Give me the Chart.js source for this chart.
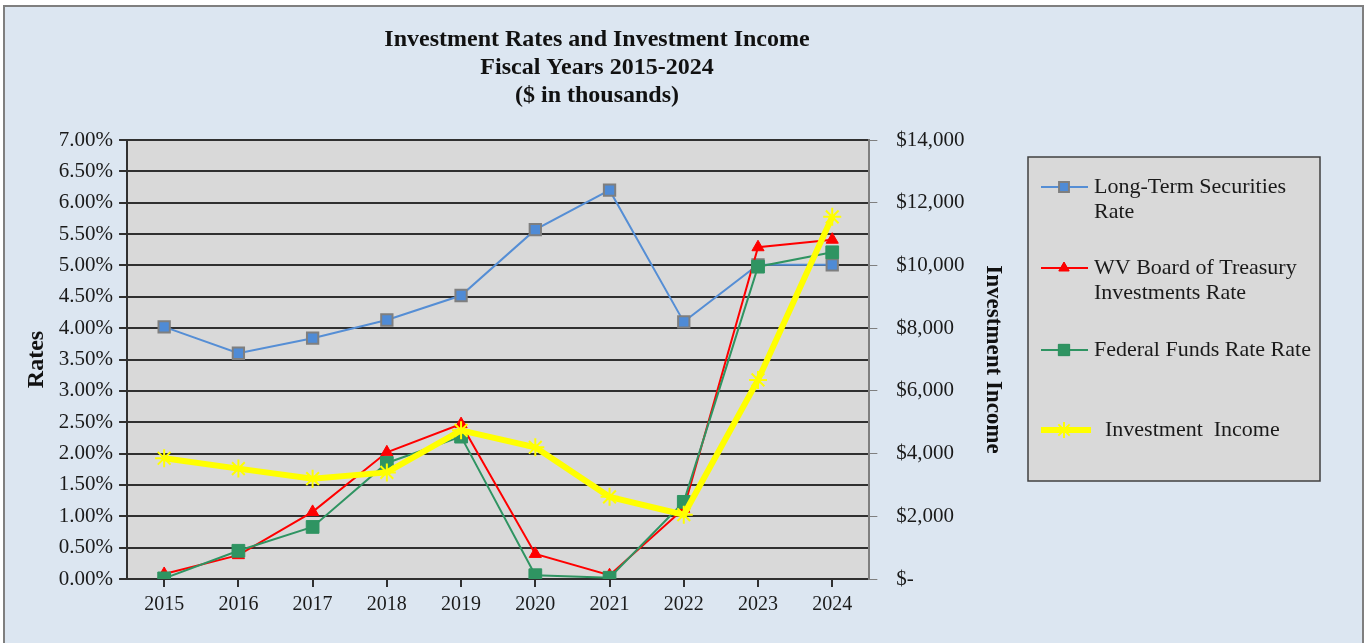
<!DOCTYPE html>
<html>
<head>
<meta charset="utf-8">
<script src="https://cdn.jsdelivr.net/npm/chart.js@4.4.1/dist/chart.umd.min.js"></script>
<style>
  html, body { margin: 0; padding: 0; background: #ffffff; overflow: hidden; }
  #frame { position: absolute; left: 3px; top: 5px; width: 1357px; height: 660px;
           border: 2px solid #7f7f7f; background: #dce6f1; }
  #chart-container { position: absolute; left: 0; top: 0; width: 1366px; height: 643px; }
</style>
</head>
<body>
<div id="frame"></div>
<div id="chart-container"><canvas id="myChart" width="1366" height="643"></canvas></div>
<script>
//--------------------- Data

var years = ["2015", "2016", "2017", "2018", "2019", "2020", "2021", "2022", "2023", "2024"]

//Rates in percent (left axis)
var longTermRate = [4.02, 3.60, 3.84, 4.13, 4.52, 5.57, 6.20, 4.10, 5.01, 5.01]
var wvBoardRate = [0.08, 0.38, 1.07, 2.02, 2.47, 0.40, 0.06, 1.12, 5.29, 5.41]
var fedFundsRate = [0.01, 0.45, 0.83, 1.85, 2.27, 0.06, 0.02, 1.23, 4.98, 5.21]

//Investment income, $ in thousands (right axis)
var investmentIncome = [3850, 3520, 3200, 3400, 4740, 4200, 2620, 2050, 6350, 11550]

var titleLines = ["Investment Rates and Investment Income", "Fiscal Years 2015-2024", "($ in thousands)"]
var seriesNames = [["Long-Term Securities", "Rate"], ["WV Board of Treasury", "Investments Rate"], ["Federal Funds Rate Rate"], ["Investment  Income"]]

var serif = "'Liberation Serif', 'Times New Roman', serif"

//-------------------- Plugins

//Gray plot area behind the lines, and the three line title over it
var plotBackground = {
    id: "plotBackground",
    beforeDraw: function (chart) {
        var a = chart.chartArea
        var ctx = chart.ctx
        ctx.save()
        ctx.fillStyle = "#d9d9d9"
        ctx.fillRect(a.left, a.top, a.right - a.left, a.bottom - a.top)

        ctx.fillStyle = "#111111"
        ctx.font = "bold 24px " + serif
        ctx.textAlign = "center"
        ctx.textBaseline = "middle"
        for (var i = 0; i < titleLines.length; i++)
        {
            ctx.fillText(titleLines[i], 597, 40 + i * 28)
        }
        ctx.restore()
    }
}

//Draws the asterisk marker used for the income line in the legend
function drawStar(ctx, x, y, r)
{
    ctx.beginPath()
    for (var k = 0; k < 4; k++)
    {
        var ang = k * Math.PI / 4
        ctx.moveTo(x - Math.cos(ang) * r, y - Math.sin(ang) * r)
        ctx.lineTo(x + Math.cos(ang) * r, y + Math.sin(ang) * r)
    }
    ctx.stroke()
}

//Legend box on the right, drawn by hand so the labels can wrap
var boxLegend = {
    id: "boxLegend",
    afterDraw: function (chart) {
        var ctx = chart.ctx
        ctx.save()
        ctx.fillStyle = "#d9d9d9"
        ctx.fillRect(1028, 157, 292, 324)
        ctx.strokeStyle = "#404040"
        ctx.lineWidth = 1.5
        ctx.strokeRect(1028, 157, 292, 324)

        var rows = [187, 268, 350, 430]
        ctx.font = "22px " + serif
        ctx.textBaseline = "middle"
        for (var i = 0; i < chart.data.datasets.length; i++)
        {
            var ds = chart.data.datasets[i]
            var y = rows[i]
            ctx.strokeStyle = ds.borderColor
            ctx.lineWidth = ds.borderWidth
            ctx.beginPath()
            ctx.moveTo(1041, y)
            ctx.lineTo(i === 3 ? 1091 : 1088, y)
            ctx.stroke()
            if (ds.pointStyle === "star")
            {
                ctx.strokeStyle = "#ffff00"
                ctx.lineWidth = 2
                drawStar(ctx, 1064, y, 8)
            }
            else
            {
                Chart.helpers.drawPoint(ctx, {
                    pointStyle: ds.pointStyle,
                    radius: ds.pointRadius - 1,
                    rotation: 0,
                    borderWidth: 0
                }, 1064, y)
                ctx.fillStyle = ds.pointBackgroundColor
                ctx.strokeStyle = ds.pointBorderColor
                ctx.lineWidth = ds.pointBorderWidth
                ctx.fill()
                ctx.stroke()
            }

            ctx.fillStyle = "#1a1a1a"
            for (var j = 0; j < seriesNames[i].length; j++)
            {
                ctx.fillText(seriesNames[i][j], i === 3 ? 1105 : 1094, y + j * 25)
            }
        }
        ctx.restore()
    }
}

//-------------------- Chart

function moneyLabel(value)
{
    if (value === 0)
    {
        return "$-"
    }
    return "$" + value.toLocaleString("en-US")
}

var ctx = document.getElementById("myChart")
var myChart = new Chart(ctx, {
    type: "line",
    data: {
        labels: years,
        datasets: [
            {
                label: "Long-Term Securities Rate",
                data: longTermRate,
                yAxisID: "y",
                borderColor: "#558ed5",
                borderWidth: 2,
                pointStyle: "rect",
                pointRadius: 8,
                pointBackgroundColor: "#4f8bd6",
                pointBorderColor: "#7f7f7f",
                pointBorderWidth: 2,
                order: 4
            },
            {
                label: "WV Board of Treasury Investments Rate",
                data: wvBoardRate,
                yAxisID: "y",
                borderColor: "#ff0000",
                borderWidth: 2,
                pointStyle: "triangle",
                pointRadius: 7,
                pointBackgroundColor: "#ff0000",
                pointBorderColor: "#ff0000",
                pointBorderWidth: 1,
                order: 3
            },
            {
                label: "Federal Funds Rate Rate",
                data: fedFundsRate,
                yAxisID: "y",
                borderColor: "#2f9462",
                borderWidth: 2,
                pointStyle: "rect",
                pointRadius: 9,
                pointBackgroundColor: "#2f9462",
                pointBorderColor: "#2f9462",
                pointBorderWidth: 1,
                order: 2
            },
            {
                label: "Investment Income",
                data: investmentIncome,
                yAxisID: "y2",
                borderColor: "#ffff00",
                borderWidth: 6,
                pointStyle: "star",
                pointRadius: 9,
                pointBackgroundColor: "#ffff00",
                pointBorderColor: "#ffff00",
                pointBorderWidth: 2,
                order: 1
            }
        ]
    },
    options: {
        animation: false,
        responsive: false,
        maintainAspectRatio: false,
        layout: {
            padding: { left: 20, right: 364, top: 140, bottom: 20 }
        },
        scales: {
            x: {
                offset: true,
                border: { color: "#303030", width: 2 },
                grid: { drawOnChartArea: false, drawTicks: true, tickLength: 8, color: "#303030", lineWidth: 2 },
                ticks: { color: "#1a1a1a", font: { family: serif, size: 20 }, padding: 6, maxRotation: 0 }
            },
            y: {
                position: "left",
                min: 0,
                max: 7,
                border: { color: "#303030", width: 2 },
                grid: { color: "#303030", lineWidth: 2, tickLength: 8 },
                ticks: {
                    stepSize: 0.5,
                    color: "#1a1a1a",
                    font: { family: serif, size: 21 },
                    padding: 6,
                    callback: function (value) { return value.toFixed(2) + "%" }
                },
                title: { display: true, text: "Rates", color: "#111", font: { family: serif, size: 24, weight: "bold" }, padding: 2 }
            },
            y2: {
                position: "right",
                min: 0,
                max: 14000,
                border: { color: "#7f7f7f", width: 2 },
                grid: { drawOnChartArea: false, color: "#7f7f7f", tickLength: 8 },
                ticks: {
                    stepSize: 2000,
                    color: "#1a1a1a",
                    font: { family: serif, size: 21 },
                    padding: 19,
                    callback: moneyLabel
                },
                title: { display: true, text: "Investment Income", color: "#111", font: { family: serif, size: 23, weight: "bold", lineHeight: 0.8 }, padding: 0 }
            }
        },
        plugins: {
            title: { display: false },
            legend: { display: false },
            tooltip: { enabled: false }
        }
    },
    plugins: [plotBackground, boxLegend]
})
</script>
</body>
</html>
